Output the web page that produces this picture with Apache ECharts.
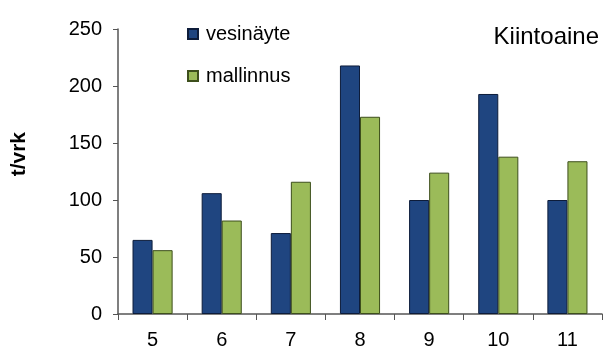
<!DOCTYPE html>
<html><head><meta charset="utf-8">
<script src="https://cdn.jsdelivr.net/npm/echarts@6/dist/echarts.min.js"></script>
<style>html,body{margin:0;padding:0;background:#fff}#c{width:605px;height:355px}</style>
</head><body><div id="c"></div>
<script>
const categories = ['5','6','7','8','9','10','11'];
const vesinayte = [65, 106, 71, 218, 100, 193, 100];
const mallinnus = [56, 82, 116, 173, 124, 138, 134];
const yTicks = [0, 50, 100, 150, 200, 250];

const chart = echarts.init(document.getElementById('c'));
const font = 'Liberation Sans, Arial, sans-serif';
chart.setOption({
  animation: false,
  title: { text: 'Kiintoaine', right: 6, top: 25, padding: 0, textStyle: { fontFamily: font, fontSize: 24, fontWeight: 'normal', color: '#000' } },
  legend: {
    orient: 'vertical', left: 187, top: 24, padding: 0, itemWidth: 10, itemHeight: 10, itemGap: 22,
    icon: 'rect',
    textStyle: { fontFamily: font, fontSize: 20, color: '#000', padding: [0,0,0,3] },
    data: ['vesinäyte', 'mallinnus']
  },
  grid: { left: 118, right: 3, top: 29, bottom: 41 },
  graphic: [{ type: 'text', left: 9, top: 132, rotation: Math.PI/2,
    style: { text: 't/vrk', font: 'bold 21px Liberation Sans, Arial, sans-serif', fill: '#000' } }],
  xAxis: {
    type: 'category', data: categories,
    axisLine: { lineStyle: { color: '#555', width: 1.5 } },
    axisTick: { show: true, length: 6, lineStyle: { color: '#555' } },
    axisLabel: { fontFamily: font, fontSize: 20, color: '#000', margin: 16 }
  },
  yAxis: {
    type: 'value', min: 0, max: 250, interval: 50,
    axisLine: { show: true, lineStyle: { color: '#555', width: 1.5 } },
    axisTick: { show: true, length: 5, lineStyle: { color: '#555' } },
    splitLine: { show: false },
    axisLabel: { fontFamily: font, fontSize: 20, color: '#000', margin: 16,
      formatter: v => yTicks.includes(v) ? String(v) : '' }
  },
  series: [
    { name: 'vesinäyte', type: 'bar', data: vesinayte, barGap: '0%', barCategoryGap: '42%',
      itemStyle: { color: '#1f4580', borderColor: '#0d1c3a', borderWidth: 1 } },
    { name: 'mallinnus', type: 'bar', data: mallinnus, barGap: '0%', barCategoryGap: '42%',
      itemStyle: { color: '#9bbb59', borderColor: '#3d4f1c', borderWidth: 1 } }
  ]
});
</script></body></html>
